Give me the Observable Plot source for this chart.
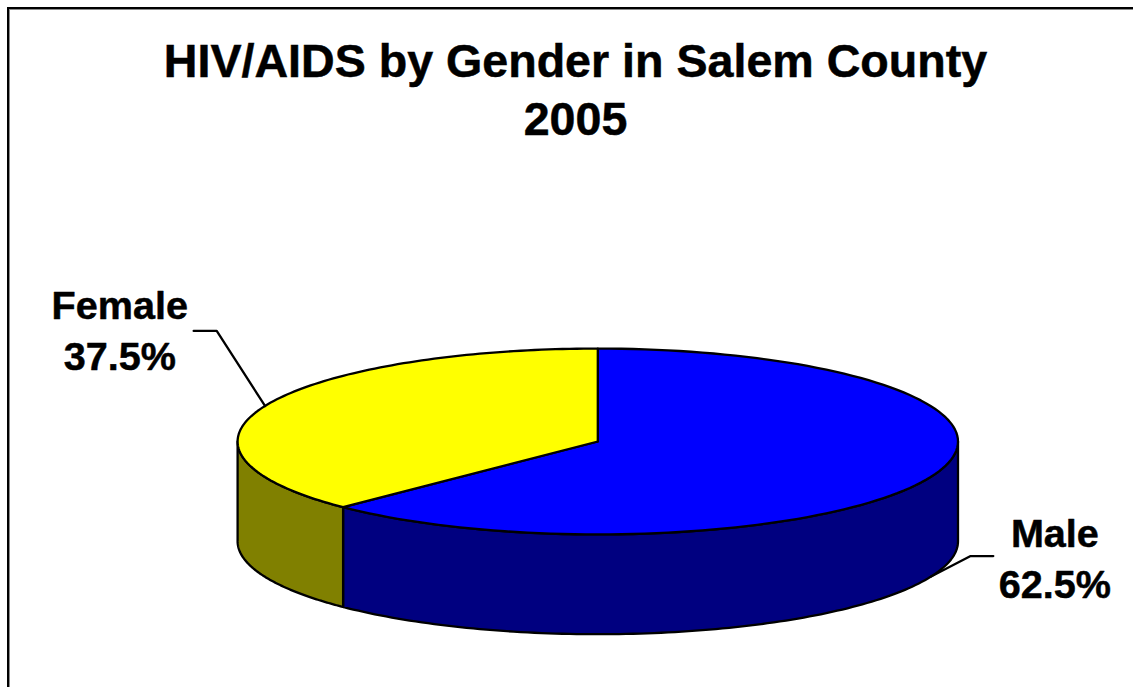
<!DOCTYPE html>
<html>
<head>
<meta charset="utf-8">
<script src="https://cdn.jsdelivr.net/npm/d3@7"></script>
<script src="https://cdn.jsdelivr.net/npm/@observablehq/plot@0.6"></script>
<style>
  html, body { margin: 0; padding: 0; background: #fff; overflow: hidden; width: 1133px; height: 687px; }
  #frame { position: absolute; left: 7px; top: 7px; width: 1300px; height: 900px;
           border-left: 2px solid #000; border-top: 2px solid #000; box-shadow: inset 1px 1px 0 #8a8a8a; }
  #page { position: absolute; left: 0; top: 0; width: 1133px; height: 687px; }
  #title { margin: 0; height: 140px; box-sizing: border-box; padding-top: 32px; width: 1151px; text-align: center;
           font: bold 46.6px/58px "Liberation Sans", Arial, sans-serif; color: #000; -webkit-text-stroke: 0.5px #000; }
  svg { display: block; }
</style>
</head>
<body>
<div id="frame"></div>
<div id="page">
  <h1 id="title">HIV/AIDS by Gender in Salem County<br>2005</h1>
  <div id="chart"></div>
</div>
<script>
// Data
const categories = ["Male", "Female"];
const shares = [62.5, 37.5];
const topColors = ["#0000ff", "#ffff00"];
const sideColors = ["#000080", "#808000"];

// Pie appearance, in pie radii
const tilt = 0.258;     // vertical squash of the ellipse
const depth = 0.277;    // thickness of the disc

// Leader-line knee and end, and label centre, relative to the chart (pie radii)
const knees = [[1.035, 0.318], [-1.058, -0.307]];
const leaderEnds = [[1.098, 0.318], [-1.122, -0.307]];
const labelPos = [[1.269, 0.318], [-1.327, -0.315]];

const chartHeight = 547;
const cxPx = 597.3, cyPx = 301, rPx = 360.2; // pie centre and radius, SVG pixels

// Angles clockwise from 12 o'clock
const total = d3.sum(shares);
let acc = 0;
const slices = categories.map((name, i) => {
  const a0 = acc / total * 2 * Math.PI;
  acc += shares[i];
  const a1 = acc / total * 2 * Math.PI;
  return {name, share: shares[i], a0, a1, mid: (a0 + a1) / 2, i};
});

const rim = (a, dz = 0) => ({x: Math.sin(a), y: -Math.cos(a) * tilt + dz});
const arc = (a0, a1, dz = 0) => d3.range(0, 121).map(k => rim(a0 + (a1 - a0) * k / 120, dz));

const topPolys = slices.map(s => {
  const c = {x: 0, y: 0};
  return [c, ...arc(s.a0, s.a1), c];
});

// Front wall only: the part of each slice between 3 o'clock and 9 o'clock
const sidePolys = slices.map(s => {
  const a0 = Math.max(s.a0, Math.PI / 2), a1 = Math.min(s.a1, 3 * Math.PI / 2);
  if (a1 <= a0) return [];
  const upper = arc(a0, a1), lower = arc(a0, a1, depth).reverse();
  return [...upper, ...lower, upper[0]];
});

const leaders = slices.map((s, i) => {
  const onRim = rim(s.mid, Math.cos(s.mid) < 0 ? depth : 0);
  return [onRim, {x: knees[i][0], y: knees[i][1]}, {x: leaderEnds[i][0], y: leaderEnds[i][1]}];
});

const labels = slices.map((s, i) => ({
  x: labelPos[i][0], y: labelPos[i][1],
  text: `${s.name}\n${s.share.toFixed(1)}%`
}));

const outline = {x: "x", y: "y", stroke: "#000", strokeWidth: 2.3, strokeLinejoin: "round", curve: "linear"};

const chart = Plot.plot({
  width: 1133, height: chartHeight,
  marginTop: 0, marginRight: 0, marginBottom: 0, marginLeft: 0,
  x: {domain: [-cxPx / rPx, (1133 - cxPx) / rPx], range: [0, 1133], axis: null},
  y: {domain: [-cyPx / rPx, (chartHeight - cyPx) / rPx], range: [0, chartHeight], axis: null},
  style: {background: "transparent", overflow: "visible"},
  marks: [
    ...sidePolys.map((p, i) => Plot.line(p, {...outline, fill: sideColors[i]})),
    ...topPolys.map((p, i) => Plot.line(p, {...outline, fill: topColors[i]})),
    ...leaders.map(p => Plot.line(p, {x: "x", y: "y", stroke: "#000", strokeWidth: 2.3, strokeLinejoin: "miter", curve: "linear"})),
    Plot.text(labels, {
      x: "x", y: "y", text: "text", lineHeight: 1.28,
      fontFamily: "Liberation Sans, Arial, sans-serif", fontWeight: "bold", fontSize: 39.6, fill: "#000",
      stroke: "#000", strokeWidth: 0.5
    })
  ]
});
document.getElementById("chart").appendChild(chart);
</script>
</body>
</html>
